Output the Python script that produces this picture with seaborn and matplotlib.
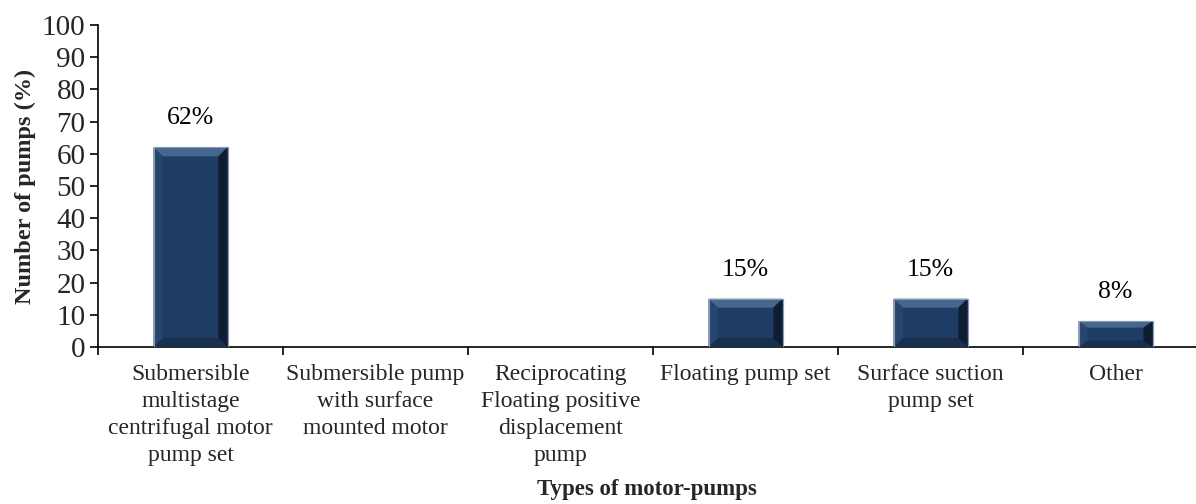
import matplotlib
matplotlib.use("Agg")
import matplotlib.pyplot as plt
from matplotlib.patches import Polygon
import seaborn as sns
import pandas as pd

categories = [
    "Submersible\nmultistage\ncentrifugal motor\npump set",
    "Submersible pump\nwith surface\nmounted motor",
    "Reciprocating\nFloating positive\ndisplacement\npump",
    "Floating pump set",
    "Surface suction\npump set",
    "Other",
]
percent = [62, 0, 0, 15, 15, 8]
y_ticks = list(range(0, 101, 10))

df = pd.DataFrame({"type": categories, "pct": percent})

sns.set_theme(style="white")
plt.rcParams["font.family"] = ["Liberation Serif", "DejaVu Serif"]

fig = plt.figure(figsize=(11.96, 5.04), dpi=100)
# axes runs slightly past the right edge, as in the reference
ax = fig.add_axes([98 / 1196, 157 / 504, 1110 / 1196, 322 / 504])

sns.barplot(data=df, x="type", y="pct", color="#1f3c64", width=0.4,
            saturation=1, edgecolor="#8b9bb2", linewidth=0.8, ax=ax)

# simple bevel shading on each bar, built from the bar geometry
px_x = 0.4 / 73.0
px_y = 100 / 322.0
for p in ax.patches:
    x0, y0 = p.get_x(), p.get_y()
    w, h = p.get_width(), p.get_height()
    if h <= 0:
        continue
    by = min(9 * px_y, h / 4)
    bx = min(9 * px_x, w / 4)
    x1, y1 = x0 + w, y0 + h
    faces = [
        ([(x0, y1), (x1, y1), (x1 - bx, y1 - by), (x0 + bx, y1 - by)], "#45668f"),
        ([(x0, y0), (x1, y0), (x1 - bx, y0 + by), (x0 + bx, y0 + by)], "#182f50"),
        ([(x1, y0), (x1, y1), (x1 - bx, y1 - by), (x1 - bx, y0 + by)], "#0f1d33"),
        ([(x0, y0), (x0, y1), (x0 + bx, y1 - by), (x0 + bx, y0 + by)], "#26466f"),
    ]
    for pts, c in faces:
        ax.add_patch(Polygon(pts, closed=True, facecolor=c, edgecolor="none", zorder=3))
    ax.add_patch(plt.Rectangle((x0, y0), w, h, fill=False, edgecolor="#8b9bb2",
                               linewidth=0.8, zorder=4))
    ax.annotate(f"{int(h)}%", (x0 + w / 2, y1), xytext=(0, 13), textcoords="offset points",
                ha="center", va="bottom", fontsize=18.5, color="black")

ax.set_xlim(-0.5, len(categories) - 0.5)
ax.set_ylim(0, 100)
ax.set_yticks(y_ticks)
ax.set_xticks(range(len(categories)))
ax.set_xticklabels(categories, fontsize=17, linespacing=1.38)
ax.set_xticks([i - 0.5 for i in range(len(categories) + 1)], minor=True)
ax.tick_params(axis="x", which="major", length=0, pad=12)
ax.tick_params(axis="x", which="minor", length=6, width=1.2, color="black", direction="out", bottom=True)
ax.tick_params(axis="y", length=6, width=1.2, color="black", direction="out", left=True, labelsize=21, pad=3)

for s in ["top", "right"]:
    ax.spines[s].set_visible(False)
for s in ["left", "bottom"]:
    ax.spines[s].set_color("black")
    ax.spines[s].set_linewidth(1.2)

ax.set_ylabel("Number of pumps (%)", fontsize=17.5, fontweight="bold", labelpad=4)
ax.set_xlabel("")
fig.text(647 / 1196, 1 - 490 / 504, "Types of motor-pumps", ha="center", va="center",
         fontsize=16.5, fontweight="bold")

fig.savefig("out.png", dpi=100)
